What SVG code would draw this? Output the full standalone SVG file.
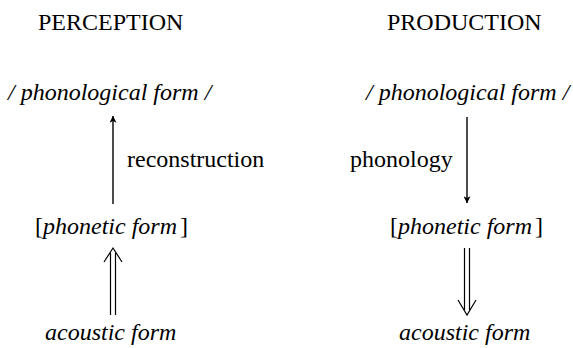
<svg xmlns="http://www.w3.org/2000/svg" width="573" height="348" viewBox="0 0 573 348">
<defs>
<style>
text{font-family:"Liberation Serif","Times New Roman",serif;font-size:24px;fill:#000}
.it{font-style:italic}
.ln{stroke:#000;stroke-width:1.4;fill:none}
.dl{stroke:#000;stroke-width:1.2;fill:none}
</style>
<marker id="ah" viewBox="0 0 10 10" refX="9.5" refY="5" markerWidth="9" markerHeight="7" markerUnits="userSpaceOnUse" orient="auto"><path d="M0,0 L10,5 L0,10 L2.5,5 Z" fill="#000"/></marker>
</defs>
<g id="head-perception"><text x="38" y="30">PERCEPTION</text></g>
<g id="head-production"><text x="387" y="30">PRODUCTION</text></g>
<g id="phonological-left"><text class="it" x="8" y="100">/ phonological form /</text></g>
<g id="phonological-right"><text class="it" x="366" y="100">/ phonological form /</text></g>
<g id="phonetic-left"><text x="35" y="234">[<tspan class="it">phonetic form</tspan><tspan dx="3">]</tspan></text></g>
<g id="phonetic-right"><text x="390" y="234">[<tspan class="it">phonetic form</tspan><tspan dx="3">]</tspan></text></g>
<g id="acoustic-left"><text class="it" x="45" y="340">acoustic form</text></g>
<g id="acoustic-right"><text class="it" x="399" y="340">acoustic form</text></g>
<g id="connectors">
<line class="ln" x1="113" y1="204" x2="113" y2="116" marker-end="url(#ah)"/>
<text x="127" y="167">reconstruction</text>
<line class="ln" x1="467" y1="117" x2="467" y2="203" marker-end="url(#ah)"/>
<text x="350" y="167">phonology</text>
<path class="dl" d="M110.5,315 V253 M115.5,315 V253 M104,262 L113,248 L122,262"/>
<path class="dl" d="M464.5,248 V310 M469.5,248 V310 M458,300 L467,315 L476,300"/>
</g>
</svg>
